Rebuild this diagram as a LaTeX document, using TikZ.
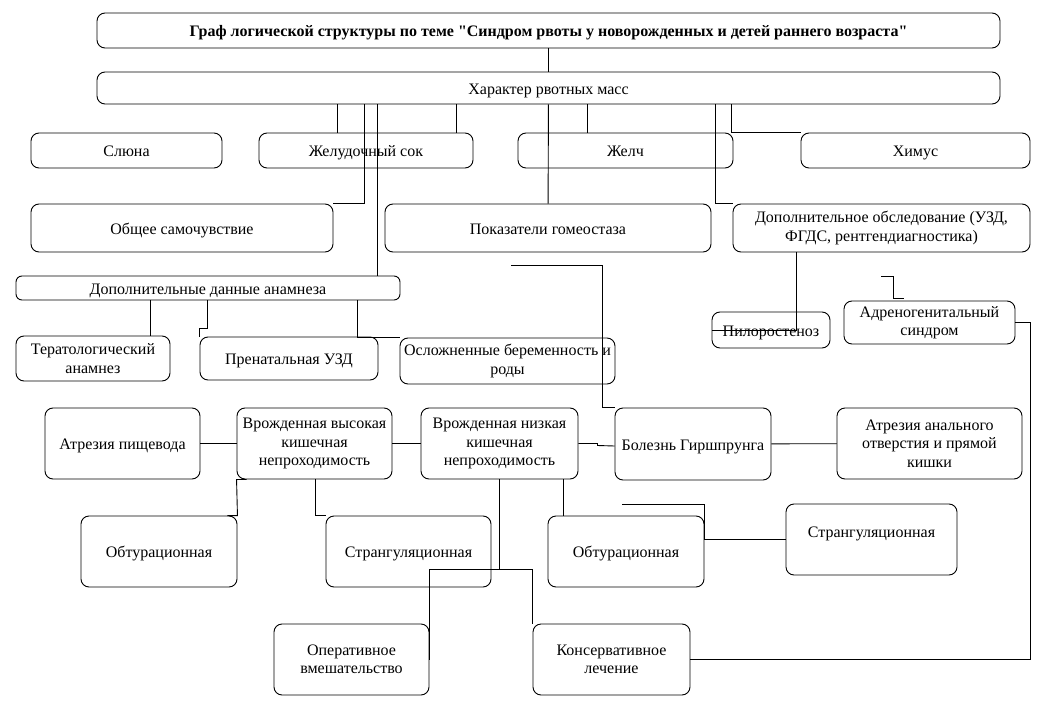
\documentclass[tikz,border=0pt]{standalone}
\usepackage{fontspec}
\setmainfont{Liberation Serif}[Ligatures=TeXOff]
\begin{document}
\begin{tikzpicture}
    [x=1pt,y=-1pt,
     blok/.style={draw=black,rounded corners=8pt,align=center,inner sep=0pt,
       line width=0.9pt,font=\fontsize{16}{18.5}\selectfont},
     one/.style={text height=14pt,text depth=2pt},
     link/.style={draw=black,line width=0.9pt}]
  \useasboundingbox (0,0) rectangle (1047,709);
  % top
  \node [blok,one,minimum width=903,minimum height=35] (title) at (548.5,30.5)
    {\textbf{Граф логической структуры по теме "Синдром рвоты у новорожденных и детей раннего возраста"}};
  \node [blok,one,minimum width=903,minimum height=32] (harakter) at (548.5,88) {Характер рвотных масс};
  \node [blok,one,minimum width=191,minimum height=35] (sluna) at (126.5,150.5) {Слюна};
  \node [blok,one,minimum width=214,minimum height=35] (zhelsok) at (366,150.5) {Желудочный сок};
  \node [blok,one,minimum width=215,minimum height=35] (zhelch) at (625.5,150.5) {Желч};
  \node [blok,one,minimum width=229,minimum height=35] (himus) at (915.5,150.5) {Химус};
  \node [blok,one,minimum width=302,minimum height=48] (samochuv) at (182,228) {Общее самочувствие};
  \node [blok,one,minimum width=326,minimum height=48] (gomeostaz) at (548,228) {Показатели гомеостаза};
  \node [blok,minimum width=297,minimum height=48] (obsled) at (881.5,228)
    {Дополнительное обследование (УЗД,\\ФГДС, рентгендиагностика)};
  % anamnesis
  \node [blok,one,rounded corners=6pt,minimum width=384,minimum height=24] (anamnez) at (208,288)
    {Дополнительные данные анамнеза};
  \node [blok,minimum width=154,minimum height=45] (terat) at (93,358.5) {Тератологический\\анамнез};
  \node [blok,one,minimum width=178,minimum height=43] (prenat) at (289,358.5) {Пренатальная УЗД};
  \node [blok,minimum width=215,minimum height=46] (oslozh) at (507.5,361)
    {Осложненные беременность и\\роды};
  \node [blok,one,minimum width=118,minimum height=36] (pilor) at (771,330) {Пилоростеноз};
  \node [blok,minimum width=171,minimum height=43] (adreno) at (929.5,322.5) {Адреногенитальный\\синдром};
  % diseases
  \node [blok,one,minimum width=155,minimum height=71] (atrpish) at (122.5,443.5) {Атрезия пищевода};
  \node [blok,minimum width=155,minimum height=71] (vysok) at (314.5,443.5)
    {Врожденная высокая\\кишечная\\непроходимость};
  \node [blok,minimum width=157,minimum height=71] (nizk) at (499.5,443.5)
    {Врожденная низкая\\кишечная\\непроходимость};
  \node [blok,one,minimum width=156,minimum height=72] (girsh) at (693,444) {Болезнь Гиршпрунга};
  \node [blok,minimum width=185,minimum height=71] (atranal) at (929.5,443.5)
    {Атрезия анального\\отверстия и прямой\\кишки};
  \node [blok,one,minimum width=156,minimum height=71] (obtur1) at (159,551.5) {Обтурационная};
  \node [blok,one,minimum width=165,minimum height=71] (strang1) at (408.5,551.5) {Странгуляционная};
  \node [blok,one,minimum width=156,minimum height=71] (obtur2) at (626,551.5) {Обтурационная};
  \node [blok,one,minimum width=171,minimum height=71] (strang2) at (871.5,539.5) {\raisebox{8pt}{Странгуляционная}};
  \node [blok,minimum width=155,minimum height=71] (operat) at (351.5,659.5) {Оперативное\\вмешательство};
  \node [blok,minimum width=157,minimum height=71] (konserv) at (611.5,659.5) {Консервативное\\лечение};
  % free ends
  \coordinate (g1) at (511,265);
  \coordinate (g2) at (881,276);
  \coordinate (g3) at (622,504);
  % connectors
  \draw [link] (title) -- (harakter);
  \draw [link] (harakter.south -| 337,0) -- (zhelsok.north -| 337,0);
  \draw [link] (harakter.south -| 456,0) -- (zhelsok.north -| 456,0);
  \draw [link] (harakter.south -| 364,0) |- (samochuv.north east);
  \draw [link] (harakter.south -| 377,0) -- (anamnez.north -| 377,0);
  \draw [link] (harakter) -- (gomeostaz);
  \draw [link] (harakter.south -| 587,0) -- (zhelch.north -| 587,0);
  \draw [link] (harakter.south -| 715,0) |- (obsled.north west);
  \draw [link] (harakter.south -| 731,0) |- (himus.north west);
  \draw [link] (anamnez.south -| 150,0) -- (terat.north -| 150,0);
  \draw [link] (anamnez.south -| 207,0) -- ++(0,28) -| (prenat.north west);
  \draw [link] (anamnez.south -| 357,0) |- (oslozh.north west);
  \draw [link] (g1) -| (girsh.north -| 602,0) -- (girsh.north west);
  \draw [link] (obsled.south -| 796,0) |- (pilor.west);
  \draw [link] (g2) -- ++(12,0) -- ++(0,22) -- ++(11,0);
  \draw [link] (adreno.east) -- (adreno.east -| 1030,0) |- (konserv.east);
  \draw [link] (atrpish) -- (vysok);
  \draw [link] (vysok) -- (nizk);
  \draw [link] (nizk.east) -- ++(19,0) -- ++(0,2) -- ([yshift=-2pt]girsh.west);
  \draw [link] (girsh) -- (atranal);
  \draw [link] ([xshift=10pt]vysok.south west) -- (vysok.south west)
    -- (obtur1.north east) -- ([xshift=-10pt]obtur1.north east);
  \draw [link] (vysok.south -| 315,0) -- ++(0,36) -| (strang1.north west);
  \draw [link] (nizk.south -| 499,0) |- (konserv.north west |- 0,569) -- (konserv.north west);
  \draw [link] (nizk.south -| 499,0) |- (operat.north east |- 0,569) -- ([yshift=-36pt]operat.north east);
  \draw [link] (nizk.south -| 563,0) -- (obtur2.north -| 563,0);
  \draw [link] (g3) -| (strang2.west -| obtur2.east) -- (strang2.west);
\end{tikzpicture}
\end{document}
